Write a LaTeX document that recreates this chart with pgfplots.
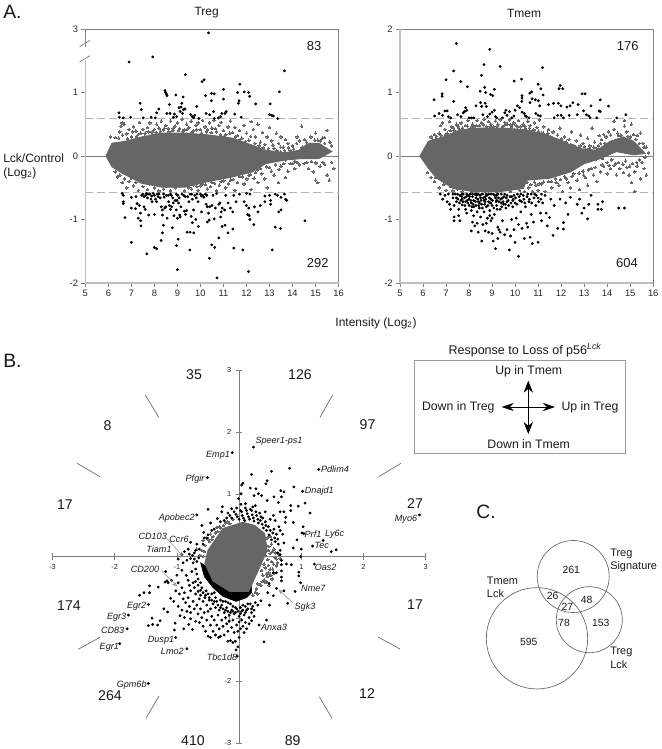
\documentclass[border=0pt]{standalone}
\usepackage{pgfplots}
\pgfplotsset{compat=1.18}
\usepackage{fontspec}
\setmainfont{Liberation Sans}
\usetikzlibrary{arrows.meta}
\definecolor{blobc}{HTML}{666666}
\definecolor{framec}{HTML}{808080}
\definecolor{dashc}{HTML}{B4B4B4}
\definecolor{spinec}{HTML}{BEBEBE}
\pgfplotsset{
 blk/.style={only marks,color=black,mark=*,mark size=0.85pt,mark options={solid,draw=none,fill=black}},
 gry/.style={only marks,color=blobc,mark=*,mark size=0.95pt,mark options={solid,draw=blobc,fill=blobc,line width=0pt}},
 core/.style={fill=blobc,draw=blobc,line width=0.8pt,mark=none},
 cut/.style={color=dashc,dash pattern=on 6pt off 3pt,line width=0.7pt},
 ma/.style={scale only axis,width=189.9pt,height=190.5pt,xmin=5,xmax=16,ymin=-2,ymax=2,
  clip=false,axis line style={framec,line width=0.6pt},tick style={framec,line width=0.5pt},
  major tick length=3pt,tick align=outside,xtick pos=bottom,ytick pos=left,
  xtick={5,...,16},xticklabels={5,6,7,8,9,10,11,12,13,14,15,16},ytick={-2,-1,0,1,2},
  tick label style={font=\fontsize{7}{8}\selectfont,text=black!85},
  xticklabel style={yshift=1pt},yticklabel style={xshift=1pt}},
}
\begin{document}
\begin{tikzpicture}
\path[use as bounding box] (0,0) rectangle (495.75pt,561.75pt);

% A left: Treg
\begin{axis}[ma,at={(64pt,349.5pt)},anchor=south west,yticklabels={-2,-1,0,1,3}]
\addplot[framec,line width=0.6pt] coordinates {(5,0) (16,0)};
\addplot[core] coordinates {(5.9,0)(6.16,.2)(6.74,.23)(7.46,.3)(8.33,.36)(9.35,.36)(10.36,.33)(11.38,.28)(12.25,.17)(12.83,.09)(13.7,.05)(14.28,.09)(14.7,.2)(15.15,.2)(15.7,.07)(15.15,-.04)(14.4,-.04)(13.7,-.06)(12.83,-.12)(12.25,-.25)(11.38,-.33)(10.36,-.4)(9.35,-.49)(8.33,-.49)(7.46,-.43)(6.6,-.27)(6.16,-.17)} -- cycle;
\addplot[gry] coordinates {
(6.1,.3)(6.3,.29)(6.5,.38)(6.55,.47)(6.6,.52)(6.7,.5)(6.8,.35)(6.9,.42)(7,.3)(7.1,.46)(7.2,.39)(7.3,.34)(7.35,.53)(7.5,.42)(7.6,.36)(7.7,.45)(7.8,.52)(7.9,.38)(8,.42)(8.1,.5)(8.2,.44)(8.3,.55)(8.4,.41)(8.5,.48)(8.6,.43)(8.7,.55)(8.8,.4)(8.9,.47)(9,.52)(9.1,.43)(9.2,.58)(9.3,.41)(9.4,.5)(9.5,.45)(9.6,.55)(9.7,.4)(9.8,.48)(9.9,.52)(10,.42)(10.1,.56)(10.2,.46)(10.3,.41)(10.4,.52)(10.5,.44)(10.6,.56)(10.7,.38)(10.8,.48)(10.9,.53)(11,.4)(11.1,.34)(11.2,.46)(11.3,.55)(11.4,.37)(11.5,.45)(11.6,.32)(11.7,.4)(11.8,.28)(11.9,.48)(12,.36)(12.1,.25)(12.2,.54)(12.3,.42)(12.4,.3)(12.5,.5)(12.6,.22)(12.7,.37)(12.8,.18)(12.9,.3)(13,.45)(13.1,.24)(13.2,.12)(13.3,.36)(13.4,.2)(13.5,.3)(13.6,.14)(13.7,.26)(13.8,.2)(13.9,.08)(14,.16)(14.2,.3)(14.3,.24)(14.4,.47)(14.6,.22)(14.8,.3)(15,.36)(15.1,.25)(15.3,.28)(15.4,.2)(15.5,.4)(15.7,.16)
(6.45,.28)(6.62,.33)(6.84,.27)(7.04,.38)(7.22,.31)(7.41,.36)(7.58,.31)(7.73,.38)(7.92,.34)(8.07,.37)(8.26,.39)(8.44,.44)(8.63,.38)(8.82,.44)(9.04,.4)(9.23,.39)(9.42,.42)(9.63,.37)(9.84,.41)(10.05,.36)(10.26,.38)(10.47,.37)(10.66,.43)(10.87,.34)(11.03,.31)(11.27,.36)(11.52,.3)(11.73,.26)(11.95,.23)(12.18,.31)(12.36,.2)(12.55,.16)(12.72,.13)(12.95,.12)(13.15,.17)(13.32,.08)(13.48,.14)(13.66,.09)(13.83,.13)(14.05,.11)(14.18,.2)(14.42,.14)(14.53,.26)(14.97,.25)(15.22,.24)(15.38,.29)(15.62,.22)
(12.6,.08)(13.1,.05)(13.3,-.03)(13.5,.06)(13.7,-.06)(13.9,.03)(14.1,-.08)
(6.3,-.25)(6.4,-.33)(6.5,-.3)(6.6,-.42)(6.7,-.36)(6.8,-.5)(6.9,-.4)(7,-.35)(7.1,-.47)(7.2,-.42)(7.3,-.54)(7.4,-.4)(7.5,-.48)(7.6,-.38)(7.7,-.53)(7.8,-.44)(7.9,-.4)(8,-.5)(8.1,-.45)(8.2,-.55)(8.3,-.46)(8.4,-.52)(8.5,-.48)(8.7,-.55)(8.9,-.5)(9.1,-.47)(9.3,-.55)(9.5,-.5)(9.7,-.46)(9.9,-.54)(10.1,-.44)(10.3,-.52)(10.5,-.42)(10.7,-.55)(10.9,-.4)(11.1,-.5)(11.3,-.38)(11.5,-.54)(11.7,-.32)(11.9,-.44)(12.1,-.3)(12.2,-.53)(12.4,-.26)(12.5,-.42)(12.6,-.2)(12.8,-.36)(12.9,-.5)(13,-.18)(13.2,-.3)(13.4,-.42)(13.5,-.16)(13.7,-.34)(13.8,-.24)(13.9,-.12)(14.1,-.2)(14.3,-.14)(14.5,-.12)(14.7,-.2)(14.9,-.25)(15,-.38)(15.2,-.16)(15.4,-.13)(15.5,-.3)(15.7,-.1)(15.8,-.2)(15.1,-.42)(15.6,-.38)
(9.62,-.52)(9.84,-.48)(10.02,-.47)(10.23,-.45)(10.44,-.48)(10.62,-.43)(10.82,-.46)(11.02,-.39)(11.22,-.44)(11.42,-.37)(11.62,-.42)(11.82,-.33)(12.02,-.36)(12.18,-.29)(12.33,-.35)(12.48,-.22)(12.67,-.28)(12.88,-.17)(13.08,-.24)(13.27,-.14)(13.42,-.21)(13.62,-.12)(14.02,-.12)(14.22,-.1)(14.62,-.1)(14.82,-.09)(15.02,-.11)(15.32,-.1)
};
\addplot[cut] coordinates {(5,.59) (16,.59)};
\addplot[cut] coordinates {(5,-.58) (16,-.58)};
\addplot[blk] coordinates {
(6.9,1.48)(7.93,1.56)(10.35,1.94)(13.65,1.34)(9.35,1.28)(10.07,1.17)(10.16,1.2)(11.71,1.13)(11,1.05)(11.62,1)(11.9,1.01)(12.09,1)(12.14,.94)(13.43,1.01)(10.48,.985)(10.6,.98)(10.22,.95)(10.48,.87)(11,.895)(11.68,.87)(11.65,.83)(12.4,.82)(13.03,.82)(8.46,1.03)(8.49,1)(8.52,.975)(8.55,.95)(8.93,.96)(9.25,.93)(7.38,.83)(7.43,.73)(6.46,.68)(6.48,.61)(6.65,.6)(6.97,.61)(7.52,.6)(7.86,.61)(8.04,.6)(8.1,.68)(8.19,.74)(8.54,.67)(8.68,.67)(8.65,.81)(8.87,.66)(8.83,.61)(8.97,.62)(9.12,.7)(9.07,.76)(9.16,.77)(9.19,.83)(9.26,.73)(9.33,.74)(9.22,.67)(9.58,.65)(9.64,.62)(9.7,.6)(9.75,.64)(9.84,.78)(9.93,.59)(10.25,.67)(10.4,.65)(10.57,.7)(10.6,.59)(10.78,.6)(10.88,.62)(10.93,.67)(11.07,.67)(11.12,.7)(11.49,.66)(11.77,.61)(13,.65)(13.1,.64)(13.17,.63)(13.36,.59)
(6.72,-.97)(7,-1.36)(7.67,-1.54)(8,-1.44)(8.1,-1.46)(8.29,-1.33)(8.35,-1.21)(8.39,-1.09)(8.78,-1.13)(8.96,-1.41)(9.03,-1.31)(9,-1.79)(9.54,-1.48)(9.42,-1.2)(9.55,-1.2)(9.71,-1.21)(9.65,-1.05)(9.91,-1.11)(10.39,-1.61)(10.49,-1.4)(10.62,-1.44)(10.8,-1.29)(10.72,-1.92)(12.09,-1.82)(11.2,-1.21)(11.41,-1.15)(11.45,-1.45)(11.84,-1.48)(13.12,-1.48)(13.25,-1.12)(13.48,-1.14)(14.54,-1.02)(12.32,-1.08)(10.94,-1.11)(11.07,-1.09)(10.3,-1.04)(10.38,-1.01)(10.6,-.99)(10.88,-.96)(10.9,-.88)
(6.6,-.59)(6.65,-.62)(6.65,-.72)(6.65,-.75)(7,-.65)(7,-.82)(7.2,-.64)(7.25,-.75)(7.18,-.83)(7.35,-.78)(7.4,-.9)(7.3,-.98)(7.4,-1.02)(7.42,-1.1)(7.45,-.62)(7.5,-.6)(7.55,-.64)(7.55,-.8)(7.6,-.84)(7.65,-.59)(7.7,-.66)(7.75,-.93)(7.8,-.6)(7.85,-.68)(7.9,-.72)(7.95,-.59)(8,-.62)(8,-.92)(8.05,-.68)(8.1,-.72)(8.2,-.6)(8.25,-.66)(8.3,-.8)(8.35,-.85)(8.35,-.93)(8.4,-.6)(8.45,-.82)(8.5,-.8)(8.55,-.98)(8.6,-.62)(8.62,-.72)(8.65,-.78)(8.7,-.84)(8.7,-.6)(8.75,-.8)(8.8,-.66)(8.85,-.94)(8.9,-.7)(8.95,-.6)(8.95,-.85)(9,-.98)(9.02,-.62)(9.05,-.74)(9.1,-.93)(9.12,-.96)(9.15,-.8)(9.2,-.6)(9.3,-.87)(9.35,-.92)(9.4,-.86)(9.45,-.64)(9.5,-.72)(9.55,-.6)(9.6,-.95)(9.65,-.68)(9.7,-.85)(9.75,-.62)(9.8,-1.0)(9.85,-.6)(9.9,-.72)(10,-.6)(10.05,-.88)(10.1,-.62)(10.15,-.65)(10.25,-.76)(10.3,-.8)(10.35,-.9)(10.4,-.8)(10.5,-.78)(10.55,-.62)(10.65,-.82)(10.7,-.59)(10.8,-.76)(10.85,-.74)(10.95,-.82)(11.05,-.85)(11.1,-.62)(11.2,-.74)(11.3,-.82)(11.4,-.88)(11.45,-.62)(11.55,-.72)(11.7,-.6)(11.9,-.72)(12,-.59)(12,-.78)(12.05,-.92)(12.12,-.94)(12.15,-.6)(12.1,-.82)(12.15,-1.0)(12.35,-.8)(12.5,-.88)(12.6,-.78)(12.8,-.63)(12.8,-.72)(13,-.62)(13.05,-.7)(13.05,-.76)(13.25,-.6)(13.35,-.62)(13.4,-.88)(13.5,-.85)(13.5,-.65)(13.65,-.6)(13.7,-.68)(13.75,-.7)
(7.62,-.62)(7.72,-.6)(7.88,-.63)(8.12,-.6)(8.16,-.64)(8.42,-.65)(8.52,-.62)(8.74,-.62)(8.82,-.74)(8.98,-.7)(9.08,-.66)(9.28,-.62)(9.34,-.64)(9.62,-.6)(9.82,-.66)(10.04,-.63)(10.22,-.6)(10.28,-.62)
};
\draw[spinec,line width=1.5pt] (axis cs:5,-2)--(axis cs:16,-2);
\draw[spinec,line width=1.2pt] (axis cs:5,-2)--(axis cs:5,1.48);
\draw[white,line width=2pt] (axis cs:5,1.5)--(axis cs:5,1.72);
\draw[framec,line width=0.6pt] (axis cs:4.75,1.48)--(axis cs:5.2,1.58);
\draw[framec,line width=0.6pt] (axis cs:4.75,1.72)--(axis cs:5.2,1.82);
\end{axis}

% A right: Tmem
\begin{axis}[ma,at={(300pt,349.5pt)},anchor=south west,yticklabels={-2,-1,0,1,2}]
\addplot[framec,line width=0.6pt] coordinates {(5,0) (16,0)};
\addplot[core] coordinates {(5.87,0)(6.23,.23)(6.88,.3)(7.6,.41)(8.48,.44)(9.49,.44)(10.5,.41)(11.38,.33)(12.1,.23)(12.68,.12)(13.55,.09)(14.13,.23)(14.7,.3)(15.15,.23)(15.65,.04)(15.15,.02)(14.4,.07)(13.7,-.04)(13,-.12)(12.4,-.25)(11.5,-.35)(10.5,-.38)(10.36,-.51)(9.35,-.56)(8.19,-.56)(7.32,-.51)(6.6,-.35)(6.23,-.19)} -- cycle;
\addplot[gry] coordinates {
(6.35,.3)(6.5,.34)(6.6,.27)(6.7,.36)(6.75,.48)(6.85,.52)(6.95,.42)(7.05,.36)(7.15,.54)(7.25,.46)(7.35,.4)(7.45,.5)(7.55,.44)(7.65,.52)(7.75,.38)(7.85,.48)(7.95,.56)(8.05,.43)(8.15,.5)(8.25,.46)(8.35,.56)(8.45,.48)(8.55,.52)(8.65,.58)(8.75,.46)(8.85,.54)(8.95,.5)(9.05,.46)(9.15,.55)(9.25,.5)(9.35,.57)(9.45,.46)(9.55,.53)(9.65,.5)(9.75,.57)(9.85,.46)(9.95,.52)(10.05,.48)(10.15,.56)(10.25,.46)(10.35,.5)(10.45,.43)(10.55,.55)(10.65,.48)(10.75,.4)(10.85,.52)(10.95,.45)(11.05,.57)(11.15,.36)(11.25,.46)(11.35,.34)(11.45,.42)(11.55,.3)(11.65,.38)(11.75,.24)(11.85,.33)(11.95,.44)(12.05,.22)(12.15,.3)(12.25,.18)(12.35,.26)(12.45,.38)(12.55,.16)(12.65,.24)(12.75,.13)(12.85,.33)(12.95,.2)(13.05,.1)(13.15,.28)(13.25,.16)(13.35,.44)(13.45,.22)(13.55,.12)(13.65,.32)(13.75,.26)(13.85,.34)(13.95,.3)(14.05,.38)(14.15,.33)(14.3,.42)(14.45,.36)(14.6,.33)(14.75,.47)(14.85,.38)(15,.3)(15.05,.5)(15.15,.34)(15.3,.32)(15.45,.36)(15.55,.2)(15.7,.14)(14.75,.56)(14.3,.55)
(6.42,.25)(6.58,.31)(6.78,.33)(6.98,.34)(7.18,.4)(7.33,.44)(7.52,.47)(7.72,.44)(7.93,.47)(8.12,.46)(8.32,.48)(8.62,.49)(8.92,.46)(9.22,.47)(9.52,.48)(9.82,.49)(10.12,.46)(10.42,.47)(10.62,.44)(10.82,.41)(11.02,.39)(11.22,.36)(11.42,.36)(11.62,.28)(11.82,.26)(12.02,.27)(12.22,.22)(12.42,.18)(12.62,.15)(12.82,.16)(13.02,.15)(13.22,.12)(13.42,.14)(13.62,.16)(13.72,.2)(13.9,.2)(14.5,.32)(14.9,.31)(15.25,.26)(15.4,.2)(15.6,.14)
(12.6,-.02)(12.8,.04)(13.2,-.02)(13.35,.06)(13.5,-.05)(13.65,.02)(13.8,-.04)(14,-.1)(14.2,-.06)(14.5,-.1)(14.8,-.08)(15.1,-.12)(15.4,-.06)(15.65,-.02)(15.8,.05)
(6.2,-.26)(6.35,-.34)(6.5,-.4)(6.55,-.34)(6.7,-.5)(6.8,-.38)(6.9,-.45)(7,-.54)(7.1,-.42)(7.2,-.48)(7.3,-.55)(7.4,-.47)(7.5,-.52)(7.6,-.46)(7.7,-.56)(7.9,-.53)(8.1,-.56)(8.3,-.55)(8.7,-.56)(9.2,-.57)(9.8,-.56)(10.2,-.54)(10.4,-.56)(10.6,-.5)(10.75,-.56)(10.9,-.46)(11,-.54)(11.15,-.44)(11.3,-.56)(11.45,-.4)(11.6,-.5)(11.75,-.36)(11.9,-.46)(12.05,-.56)(12.15,-.32)(12.3,-.42)(12.4,-.5)(12.55,-.28)(12.7,-.38)(12.8,-.53)(12.95,-.24)(13.05,-.34)(13.15,-.46)(13.3,-.2)(13.4,-.3)(13.55,-.4)(13.7,-.25)(13.85,-.16)(14,-.28)(14.15,-.2)(14.3,-.15)(14.4,-.3)(14.55,-.2)(14.7,-.26)(14.85,-.18)(14.95,-.3)(15.05,-.42)(15.2,-.25)(15.3,-.16)(15.45,-.36)(15.6,-.2)(15.7,-.3)(15.2,-.56)
(10.52,-.42)(10.68,-.45)(10.84,-.41)(11.04,-.44)(11.24,-.41)(11.58,-.4)(11.78,-.42)(11.98,-.37)(12.22,-.36)(12.48,-.32)(12.78,-.27)(12.98,-.3)(13.18,-.22)(13.48,-.18)(13.78,-.14)(14.08,-.15)(14.38,-.12)(14.68,-.13)(14.98,-.16)(15.28,-.1)(15.52,-.1)
};
\addplot[cut] coordinates {(5,.59) (16,.59)};
\addplot[cut] coordinates {(5,-.58) (16,-.58)};
\addplot[blk] coordinates {
(7.45,1.77)(8.9,1.68)(7.33,1.34)(8.65,1.44)(9.35,1.41)(8.54,1.27)(7,1.2)(7.64,1.17)(7.93,1.09)(6.83,.98)(6.83,.94)(6.48,.885)(7.33,.86)(8.48,1.02)(8.68,1.08)(8.72,1)(8.93,.97)(9.03,.95)(9.1,1.05)(9.96,1.18)(10.28,1.21)(11.19,1.39)(11,1.13)(11.12,1.06)(11.22,.96)(10.72,1.01)(10.64,.99)(10.3,.95)(10.3,.91)(10.74,.9)(10.88,.885)(11.01,.87)(11.07,.79)(10.65,.84)(10.29,.86)(11.96,1.11)(11.91,1.06)(12.07,1.06)(12.91,.98)(13.04,.98)(13.7,.885)(14.06,.785)(11.67,.83)(11.45,.81)(11.88,.83)(11.99,.79)(12.25,.77)(12.39,.79)(12.51,.84)(12.74,.81)(12.97,.71)(13.3,.79)(13.65,.71)(13.26,.6)(13.55,.6)(14.42,.6)(14.81,.65)
(6.5,.63)(6.7,.67)(6.85,.64)(6.95,.71)(7.05,.71)(7.1,.62)(7.2,.6)(7.5,.65)(7.65,.62)(7.75,.68)(7.8,.7)(7.85,.76)(7.9,.72)(8,.6)(8.1,.6)(8.2,.6)(8.3,.79)(8.5,.84)(8.55,.78)(8.7,.83)(8.75,.78)(8.6,.65)(8.8,.62)(8.9,.66)(9,.69)(9.1,.72)(9.15,.62)(9.2,.6)(9.45,.6)(9.55,.68)(9.6,.72)(9.65,.64)(9.75,.7)(9.85,.6)(9.95,.63)(10,.72)(10.1,.79)(10.2,.76)(10.3,.69)(10.4,.67)(10.45,.63)(10.5,.62)(10.6,.6)(10.9,.67)(11,.64)(11.1,.63)(11.7,.6)(11.85,.64)(12,.64)(12.1,.6)(12.35,.64)(12.7,.65)(13.1,.65)(13.2,.63)(13.7,.7)
(6.75,-.6)(6.85,-.68)(6.95,-.62)(7.05,-.72)(7.1,-.6)(7.15,-.76)(7.2,-.84)(7.3,-.66)(7.35,-.78)(7.35,-.96)(7.35,-1.02)(7.4,-.6)(7.45,-.72)(7.55,-.84)(7.55,-.94)(7.6,-1.02)(7.6,-.62)(7.65,-.7)(7.7,-.77)(7.75,-.6)(7.8,-.66)(7.85,-.72)(7.85,-.84)(7.9,-.9)(7.95,-.62)(8,-.68)(8,-.78)(8.05,-.6)(8.1,-.74)(8.1,-.86)(8.1,-1.18)(8.15,-.64)(8.15,-1.04)(8.2,-.7)(8.2,-.94)(8.25,-.6)(8.25,-1.1)(8.3,-.66)(8.3,-.78)(8.35,-.88)(8.35,-1.06)(8.4,-.72)(8.4,-.6)(8.4,-1.2)(8.45,-.82)(8.5,-.66)(8.5,-.96)(8.55,-1.34)(8.55,-.76)(8.6,-.6)(8.6,-1.08)(8.65,-.7)(8.65,-.88)(8.7,-.64)(8.7,-1.18)(8.75,-.8)(8.75,-1.06)(8.8,-.98)(8.85,-.6)(8.85,-.72)(8.85,-1.2)(8.9,-.86)(8.9,-.94)(8.95,-.68)(8.95,-1.02)(9,-.78)(9,-.98)(9,-1.22)(9.05,-1.34)(9.05,-.6)(9.1,-.92)(9.15,-.66)(9.15,-1.46)(9.2,-.78)(9.25,-.6)(9.25,-1.12)(9.25,-1.3)(9.3,-.72)(9.3,-1.16)(9.35,-.84)(9.35,-1.2)(9.45,-.66)(9.45,-1.02)(9.5,-.76)(9.55,-.6)(9.55,-1.24)(9.6,-.82)(9.65,-1.16)(9.7,-.7)(9.75,-1.48)(9.8,-1.26)(9.85,-1)(9.85,-.64)(9.9,-.8)(9.95,-1.16)(10,-.74)(10,-1.36)(10.05,-.98)(10.1,-.6)(10.15,-1.58)(10.15,-1.08)(10.2,-.7)(10.25,-.88)(10.3,-1.14)(10.35,-.62)(10.4,-1.3)(10.45,-.8)(10.5,-1.06)(10.55,-1.12)(10.6,-.72)(10.65,-1.28)(10.7,-.6)(10.7,-.92)(10.75,-1.38)(10.8,-1.04)(10.9,-.78)(11,-1.36)(11,-.66)(11.1,-.9)(11.15,-1.02)(11.2,-.74)(11.3,-.62)(11.35,-.9)(11.4,-1.1)(11.5,-.97)(11.55,-.68)(11.65,-1.25)(11.7,-.78)(11.85,-1.14)(11.95,-.68)(12.1,-1.05)(12.1,-1.15)(12.2,-.74)(12.3,-.92)(12.4,-.65)(12.7,-.76)(12.8,-.68)(12.9,-.9)(13,-.82)(13.15,-.99)(13.2,-.76)(13.3,-.62)(13.6,-.76)(13.6,-.84)(13.75,-.84)(13.8,-.72)(14.5,-.82)(14.75,-.82)
(7.3,-.6)(7.5,-.6)(7.7,-.6)(7.9,-.6)(8.15,-.6)(8.35,-.6)(8.55,-.6)(8.75,-.6)(8.95,-.6)(9.2,-.62)(9.4,-.6)(9.65,-.62)(9.95,-.62)(10.25,-.6)(10.55,-.6)(10.85,-.6)(11.15,-.6)(7.45,-.66)(7.7,-.68)(7.95,-.74)(8.2,-.8)(8.45,-.74)(8.7,-.72)(8.95,-.74)(9.2,-.7)(9.4,-.74)(9.65,-.72)(9.9,-.7)
(7.52,-.68)(7.58,-.74)(7.68,-.64)(7.74,-.72)(7.82,-.78)(7.88,-.64)(7.92,-.7)(8.02,-.64)(8.08,-.7)(8.12,-.8)(8.18,-.76)(8.28,-.72)(8.32,-.62)(8.38,-.68)(8.42,-.78)(8.48,-.62)(8.52,-.7)(8.58,-.82)(8.62,-.66)(8.68,-.76)(8.72,-.68)(8.78,-.62)(8.82,-.78)(8.88,-.66)(8.92,-.74)(9.02,-.7)(9.08,-.82)(9.12,-.62)(9.18,-.72)(9.22,-.84)(9.28,-.66)(9.38,-.68)(9.42,-.8)(9.48,-.72)(9.52,-.64)(9.58,-.76)(9.62,-.66)(9.72,-.78)(9.78,-.64)(9.82,-.74)(9.92,-.68)(10.02,-.66)(10.08,-.76)(10.18,-.64)(10.28,-.72)(10.38,-.68)(10.42,-.74)(10.52,-.64)(10.62,-.68)(10.72,-.74)(10.82,-.66)(10.92,-.62)(11.02,-.72)(11.12,-.68)
};
\draw[spinec,line width=1.5pt] (axis cs:5,-2)--(axis cs:16,-2);
\draw[spinec,line width=1.2pt] (axis cs:5,-2)--(axis cs:5,2);
\end{axis}

% B
\begin{axis}[scale only axis,width=279.9pt,height=280pt,at={(39.4pt,4.3pt)},anchor=south west,
 xmin=-3,xmax=3,ymin=-3,ymax=3,axis lines=middle,axis line style={-,framec,line width=0.6pt},
 clip=false,tick style={framec,line width=0.5pt},major tick length=5pt,
 xtick={-3,-2,-1,1,2,3},xticklabels={-3,-2,-1,1,2,3},ytick={-3,-2,-1,1,2,3},yticklabels={-3,-2,-1,1,2,3},
 tick align=center,tick label style={font=\fontsize{5.5}{6}\selectfont,text=black!85}]
\addplot[fill=black,draw=black,mark=none] coordinates {(-.62,-.1)(-.56,-.32)(-.42,-.5)(-.26,-.64)(-.05,-.72)(.12,-.66)(.2,-.58)(.2,-.4)(-.3,-.3)} -- cycle;
\addplot[core] coordinates {(.06,.55)(-.26,.45)(-.5,.1)(-.55,-.11)(-.42,-.39)(-.15,-.56)(.15,-.56)(.33,-.17)(.45,.1)(.41,.37)(.25,.5)} -- cycle;
\addplot[gry] coordinates {
(.45,.3)(.48,.16)(.5,.05)(.52,-.08)(.5,-.2)(.46,-.32)(.42,-.42)(.35,-.46)(.28,-.52)(.56,.12)(.58,-.02)(.6,-.15)(.56,-.26)(.53,-.36)(.46,-.05)(.44,.18)(.42,-.18)(.4,-.38)(.64,.04)(.62,-.1)(.66,-.03)(.48,-.46)(.3,-.6)(.22,-.62)
(-.1,.6)(-.18,.56)(-.25,.5)(-.32,.48)(-.38,.38)(-.42,.32)(-.48,.24)(-.55,.18)(-.6,.1)(-.63,.02)(-.68,.12)(-.58,.26)(-.46,.36)(-.36,.47)(-.5,.28)(-.34,.4)(-.44,.28)(-.3,.46)(-.22,.54)(-.15,.53)(-.56,.08)(-.58,0)
(.38,-.3)(.4,-.12)(.36,-.22)(.42,.02)(.44,-.28)(.47,.1)(.52,.2)(.5,.32)(.54,.08)(.55,-.12)(.58,.06)(.47,-.14)(.51,-.3)(.44,-.4)(.37,-.4)(.3,-.44)(.26,-.57)(.54,-.2)(.48,-.26)(.6,-.04)
};
\addplot[blk] coordinates {
(.23,1.76)(-.11,1.67)(-.51,1.27)(1.28,1.4)(.81,1.42)(.52,1.37)(.2,1.32)(1.02,1.05)(.88,1.12)(.45,1.22)(.43,1.17)(.06,1.18)(.04,1.15)(.03,1.01)(-.01,.93)(.18,1.1)(.27,1.09)(.03,.84)(.67,1.06)(.72,1.04)(.31,1.01)(.36,.98)(.24,.98)(.45,.9)(.56,.96)(.68,.96)(.63,.87)(.83,.82)(.95,.81)(1.06,.86)(1.14,.7)(.83,.74)(.66,.72)(.72,.72)(.75,.63)(.87,.55)(1.03,.48)(1.04,.37)(1.01,.38)(1.18,.17)(1.35,.26)(1.48,.08)(1.56,.11)(.93,.27)(1,.12)(.87,.14)(2.9,.67)(-.5,.76)(-.68,.67)(-.27,.8)(-.12,.77)(-.28,.72)(-.35,.61)(-.46,.54)(-.6,.5)(-.57,.39)(-.78,.23)(-.68,.2)(-.64,.12)(-.58,.2)
(-.18,.7)(-.15,.66)(-.12,.62)(-.08,.72)(-.05,.68)(-.03,.64)(0,.6)(.02,.74)(.04,.72)(.05,.66)(.07,.62)(.09,.58)(.1,.78)(.12,.74)(.13,.69)(.15,.64)(.17,.6)(.18,.76)(.2,.74)(.21,.67)(.23,.62)(.24,.57)(.26,.82)(.27,.72)(.28,.66)(.3,.6)(.31,.54)(.33,.7)(.34,.58)(.35,.64)(.37,.52)(.38,.62)(.39,.46)(.42,.56)(.43,.5)(.44,.42)(.47,.48)(.48,.35)(.5,.42)(.52,.27)(.54,.38)(.56,.44)(.57,.3)(.58,.24)(.6,.36)(.62,.28)(.63,.2)(.64,.48)(.66,.42)(.7,.36)(.72,.22)(.66,.1)(.62,.06)(.66,.03)(.74,.55)(.58,.58)(.55,.66)(.42,.72)(.5,.6)(.22,.8)(.1,.85)(-.04,.78)(-.2,.62)(-.24,.58)(-.3,.56)(-.4,.44)(-.44,.42)(-.5,.35)(-.52,.3)(-.56,.3)(-.7,.1)(-.72,.06)(-.75,.02)
(-.82,.12)(-.88,.08)(-.92,.03)(-.8,.04)(-.78,-.03)(-.84,-.06)(-.72,-.04)(-.68,-.08)(-.74,-.1)(-.65,-.02)(-.9,-.1)(-.98,-.04)
(-1.46,-.77)(-1.78,-.94)(-1.8,-1.16)(-1.92,-1.4)(-1.02,-1.3)(-.84,-1.48)(-.03,-1.6)(-1.46,-2.04)(.32,-1.1)(.44,-1.02)(.4,-1.37)(1.21,-.12)(.99,-.42)(.9,-.56)(.78,-.75)(.6,-.51)(.72,-.55)(.48,-.43)(.46,-.58)(.55,-.63)(.49,-.78)(.35,-.71)(.68,-.06)(.68,-.13)(.68,-.23)(.68,-.33)(.68,-.39)(.55,-.26)(.6,-.26)(.76,-.12)(.84,-.13)(.96,-.25)(.96,-.31)(.99,0)(-1.6,-.62)(-1.53,-.58)(-1.44,-.58)(-1.44,-.47)(-1.18,-.24)(-1.3,-.49)(-1.1,-.67)(-1.21,-.84)(-1.15,-.89)(-1.4,-.99)(-1.27,-1.03)(-1.46,-1.11)(-1.39,-1.09)(-1.31,-1.1)(-1.03,-1.07)(-1.04,-1.18)(-.89,-1.16)(-.81,-1.09)(-.75,-1.17)(-1.19,-.41)(-1.16,-.39)(-1.14,-.42)(-1.09,-.38)
(-.7,-.2)(-.68,-.28)(-.66,-.36)(-.62,-.42)(-.6,-.5)(-.53,-.55)(-.5,-.6)(-.44,-.6)(-.4,-.58)(-.38,-.66)(-.3,-.7)(-.26,-.72)(-.22,-.72)(-.18,-.74)(-.14,-.76)(-.1,-.8)(-.06,-.82)(.02,-.82)(.06,-.78)(.1,-.8)(.14,-.76)(.18,-.76)(.22,-.8)(.26,-.74)(.3,-.78)
(-.85,-.3)(-.82,-.38)(-.8,-.46)(-.78,-.55)(-.76,-.24)(-.74,-.42)(-.72,-.5)(-.7,-.6)(-.66,-.56)(-.64,-.68)(-.62,-.62)(-.58,-.72)(-.55,-.66)(-.52,-.78)(-.48,-.7)(-.46,-.84)(-.42,-.76)(-.38,-.82)(-.36,-.72)(-.32,-.86)(-.28,-.78)(-.24,-.9)(-.2,-.82)(-.16,-.94)(-.12,-.86)(-.08,-.92)(-.04,-.84)(0,-.96)(.04,-.88)(.08,-.94)(.12,-.86)(.16,-.98)(.2,-.9)(.24,-.96)
(-.92,-.5)(-.88,-.58)(-.9,-.68)(-.86,-.74)(-.82,-.66)(-.8,-.8)(-.78,-.9)(-.74,-.72)(-.72,-.84)(-.68,-.78)(-.66,-.92)(-.62,-.84)(-.6,-.98)(-.56,-.9)(-.52,-1.02)(-.5,-.88)(-.46,-1.1)(-.44,-.96)(-.42,-1.2)(-.4,-1.02)(-.38,-1.26)(-.36,-1.1)(-.34,-.94)(-.32,-1.16)(-.3,-1.28)(-.28,-1.02)(-.26,-1.12)(-.24,-1.26)(-.22,-.98)(-.2,-1.08)(-.18,-1.2)(-.16,-1.04)(-.14,-1.35)(-.12,-1.14)(-.1,-1.02)(-.08,-1.22)(-.06,-1.36)(-.04,-1.1)(-.02,-1.2)(0,-1.05)(0,-1.3)(.02,-1.16)(.04,-1.02)(.06,-1.12)(.08,-1.22)(.1,-1.06)(.12,-1.16)(.16,-1.08)(.2,-1.03)(-.1,-1.38)(-.18,-1.36)(-.33,-1.3)(-.02,-1.45)(-.05,-1.5)
(-.92,-.22)(-1,-.3)(-.98,-.42)(-1.02,-.55)(-.96,-.6)(-1.05,-.72)(-.98,-.8)(-.92,-.86)(-.95,-.95)(-.88,-.98)(-.84,-.88)(-.78,-1)(-.7,-1.04)(-.64,-1.06)(-.58,-1.12)(-.54,-1.2)(-.5,-1.28)(-.46,-1.3)
(-.34,-.78)(-.3,-.82)(-.26,-.84)(-.22,-.86)(-.18,-.88)(-.14,-.9)(-.1,-.88)(-.06,-.9)(-.02,-.88)(.02,-.92)(.06,-.86)(.1,-.9)(.14,-.84)(.2,-.84)(.24,-.86)(-.4,-.72)(-.44,-.7)(-.48,-.66)(-.54,-.62)(-.58,-.58)(-.62,-.54)(-.66,-.46)(-.7,-.4)
};
\end{axis}

% text and rules, in the picture's pixels
\begin{scope}[x=0.75pt,y=-0.75pt,yshift=561.75pt,every node/.style={inner sep=0pt,text=black!90}]
\tikzset{pl/.style={font=\fontsize{14.5}{16}\selectfont},
 ttl/.style={font=\fontsize{9}{10}\selectfont},
 cnt/.style={font=\fontsize{9.7}{11}\selectfont},
 qn/.style={font=\fontsize{10.6}{12}\selectfont},
 gn/.style={font=\fontsize{6.8}{8}\itshape\selectfont},
 lg/.style={font=\fontsize{9.2}{11}\selectfont},
 vn/.style={font=\fontsize{7.8}{9}\selectfont},
 vl/.style={font=\fontsize{8.2}{10}\selectfont,anchor=west}}
\node[pl,anchor=west] at (3,12) {A.};
\node[pl,anchor=west] at (3,361) {B.};
\node[pl] at (486,512) {C.};
\node[ttl] at (206.7,13) {Treg};
\node[ttl] at (524,13) {Tmem};
\node[cnt] at (314,46) {83};
\node[cnt] at (627.7,46) {176};
\node[cnt] at (317.7,263) {292};
\node[cnt] at (627,263) {604};
\node[ttl,anchor=west] at (3,158) {Lck/Control};
\node[ttl,anchor=west] at (3,173) {(Log\textsubscript{2})};
\node[ttl] at (376,323) {Intensity (Log\textsubscript{2})};

\foreach \x/\y/\t in {194/375/35,300/375/126,107.5/425.5/8,367.5/425/97,65/505/17,415/504/27,69/606/174,415/605/17,110/695.5/264,367/694/12,193/741/410,292.7/741/89}
 \node[qn] at (\x,\y) {\t};
\foreach \xa/\ya/\xb/\yb in {145.3/395/158.7/417.3,77/463.3/100/476.7,332.7/395/320/417.3,401/463.3/378.7/476.7,100/637.3/78.3/649.3,159/696/146/718.3,319.3/696.7/332/718.3,378/637/400/649}
 \draw[black!60,line width=0.5pt] (\xa,\ya)--(\xb,\yb);
\foreach \x/\y/\t in {218/455/Emp1,195/479/Pfgir,176.7/517.7/Apobec2,152.7/536.7/CD103,179/539/Ccr6,159/549/Tiam1,279/441.7/Speer1-ps1,335/469/Pdlim4,319.3/491/Dnajd1,313/534.3/Prf1,334.7/534.3/Ly6c,321.7/545/Tec,406/519/Myo6,325.7/567.7/Oas2,145/569/CD200,313.3/588.3/Nme7,305/607.3/Sgk3,136.7/606/Egr2,116.7/617/Egr3,112.7/630.7/CD83,109.3/647.7/Egr1,274/627/Anxa3,161/640.7/Dusp1,172.3/651.3/Lmo2,222/657.3/Tbc1d8,131.7/684.7/Gpm6b}
 \node[gn] at (\x,\y) {\t};
\draw[black!45,line width=0.4pt,-{Stealth[open,length=4pt]}] (166.7,538.3)--(183.3,556.7);
\draw[black!45,line width=0.4pt,-{Stealth[open,length=4pt]}] (161.7,570.7)--(177.3,586.7);
\draw[black!45,line width=0.4pt,-{Stealth[open,length=4pt]}] (293.3,603.3)--(278.3,589.3);

\draw[framec!80,line width=0.7pt] (414.3,360.7) rectangle (625.3,453);
\node[font=\fontsize{9.4}{11}\selectfont] at (525,350) {Response to Loss of p56\textsuperscript{\itshape Lck}};
\node[lg] at (528.7,371.7) {Up in Tmem};
\node[lg] at (458.3,407) {Down in Treg};
\node[lg] at (590,407) {Up in Treg};
\node[lg] at (528.7,443.7) {Down in Tmem};
\draw[black,line width=0.5pt,{Stealth[length=9pt,width=7pt]}-{Stealth[length=9pt,width=7pt]}] (528.3,380.7)--(528.3,434);
\draw[black,line width=0.5pt,{Stealth[length=9pt,width=6pt]}-{Stealth[length=9pt,width=6pt]}] (501.7,407)--(555,407);

\draw[black!60,line width=0.5pt] (573.2,576.5) circle (27pt);
\draw[black!60,line width=0.5pt] (537,638.3) circle (38pt);
\draw[black!60,line width=0.5pt] (589.3,619.7) circle (24.75pt);
\foreach \x/\y/\t in {571.3/570/261,552.7/596/26,586.7/599.7/48,567.3/607/27,564/623.3/78,600.7/623/153,528.7/642/595}
 \node[vn] at (\x,\y) {\t};
\node[vl] at (486.7,581) {Tmem};
\node[vl] at (486.7,593.7) {Lck};
\node[vl] at (610,554) {Treg};
\node[vl] at (610,566.7) {Signature};
\node[vl] at (610,652.3) {Treg};
\node[vl] at (610,665) {Lck};
\end{scope}
\end{tikzpicture}
\end{document}
